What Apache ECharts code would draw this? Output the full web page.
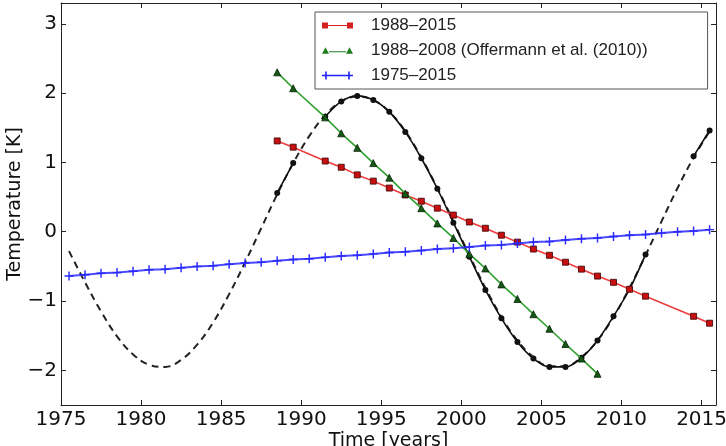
<!DOCTYPE html>
<html>
<head>
<meta charset="utf-8">
<title>Temperature fits</title>
<script src="https://cdn.jsdelivr.net/npm/echarts@6.0.0/dist/echarts.min.js"></script>
<style>
    html, body { margin: 0; padding: 0; background: #fff; }
    #main { width: 726px; height: 446px; }
</style>
</head>
<body>
<div id="main"></div>
<script type="text/javascript">
    // fitted oscillation (dashed), yearly points 1975.5 .. 2015.5
    var fitYears = [1975.5, 1976.5, 1977.5, 1978.5, 1979.5, 1980.5, 1981.5, 1982.5, 1983.5, 1984.5,
        1985.5, 1986.5, 1987.5, 1988.5, 1989.5, 1990.5, 1991.5, 1992.5, 1993.5, 1994.5,
        1995.5, 1996.5, 1997.5, 1998.5, 1999.5, 2000.5, 2001.5, 2002.5, 2003.5, 2004.5,
        2005.5, 2006.5, 2007.5, 2008.5, 2009.5, 2010.5, 2011.5, 2012.5, 2013.5, 2014.5, 2015.5];
    var fitValues = [-0.28, -0.73, -1.15, -1.51, -1.77, -1.92, -1.95, -1.85, -1.63, -1.31,
        -0.90, -0.44, 0.05, 0.54, 0.99, 1.38, 1.68, 1.88, 1.95, 1.90,
        1.73, 1.45, 1.07, 0.63, 0.15, -0.34, -0.81, -1.23, -1.57, -1.81,
        -1.94, -1.94, -1.81, -1.57, -1.23, -0.81, -0.34, 0.15, 0.63, 1.07, 1.45];

    // black markers (data years, gaps = '-')
    var dataYears = [1988.5, 1989.5, 1990.5, 1991.5, 1992.5, 1993.5, 1994.5, 1995.5, 1996.5, 1997.5,
        1998.5, 1999.5, 2000.5, 2001.5, 2002.5, 2003.5, 2004.5, 2005.5, 2006.5, 2007.5,
        2008.5, 2009.5, 2010.5, 2011.5, 2012.5, 2013.5, 2014.5, 2015.5];
    var blackValues = [0.56, 0.99, '-', 1.66, 1.88, 1.96, 1.90, 1.73, 1.44, 1.06,
        0.62, 0.13, -0.36, -0.84, -1.25, -1.59, -1.83, -1.95, -1.95, -1.82,
        -1.57, -1.22, -0.83, -0.33, '-', '-', 1.09, 1.46];

    // 1988-2015 trend
    var redValues = [1.31, 1.22, '-', 1.02, 0.93, 0.82, 0.73, 0.63, 0.53, 0.44,
        0.34, 0.24, 0.14, 0.05, -0.05, -0.15, -0.25, -0.34, -0.44, -0.54,
        -0.64, -0.73, -0.83, -0.93, '-', '-', -1.22, -1.32];

    // 1988-2008 trend (Offermann et al. 2010)
    var greenYears = [1988.5, 1989.5, 1991.5, 1992.5, 1993.5, 1994.5, 1995.5, 1996.5, 1997.5, 1998.5,
        1999.5, 2000.5, 2001.5, 2002.5, 2003.5, 2004.5, 2005.5, 2006.5, 2007.5, 2008.5];
    var greenValues = [2.30, 2.07, 1.65, 1.42, 1.21, 0.99, 0.78, 0.55, 0.34, 0.12,
        -0.09, -0.32, -0.53, -0.76, -0.97, -1.19, -1.40, -1.62, -1.83, -2.05];

    // 1975-2015 trend
    var blueValues = [-0.64, -0.62, -0.60, -0.59, -0.57, -0.55, -0.54, -0.52, -0.50, -0.49,
        -0.47, -0.45, -0.44, -0.42, -0.40, -0.39, -0.37, -0.35, -0.34, -0.32,
        -0.30, -0.29, -0.27, -0.25, -0.24, -0.22, -0.20, -0.19, -0.17, -0.15,
        -0.14, -0.12, -0.10, -0.09, -0.07, -0.05, -0.04, -0.02, 0.00, 0.01, 0.03];

    var xTicks = [1975, 1980, 1985, 1990, 1995, 2000, 2005, 2010, 2015];
    var yTicks = [-2, -1, 0, 1, 2, 3];
    var legendNames = ['1988\u20132015', '1988\u20132008 (Offermann et al. (2010))', '1975\u20132015'];

    function pairs(xs, ys) {
        var out = [];
        for (var i = 0; i < xs.length; i++) {
            out.push([xs[i], ys[i]]);
        }
        return out;
    }

    var plusPath = 'path://M4.2,0H5.8V4.2H10V5.8H5.8V10H4.2V5.8H0V4.2H4.2Z';
    var frame = '#222';

    function xAx(pos, showLabel) {
        return {
            type: 'value', position: pos, min: 1975, max: 2015.9,
            axisLine: { show: true, onZero: false, lineStyle: { color: frame, width: 1 } },
            axisTick: { show: true, inside: true, length: 5, customValues: xTicks, lineStyle: { color: frame } },
            axisLabel: {
                show: showLabel, customValues: xTicks, margin: 5,
                fontFamily: 'DejaVu Sans', fontSize: 20, color: '#111',
                formatter: function (v) { return String(v); }
            },
            splitLine: { show: false }
        };
    }
    function yAx(pos, showLabel) {
        return {
            type: 'value', position: pos, min: -2.5, max: 3.3,
            axisLine: { show: true, onZero: false, lineStyle: { color: frame, width: 1 } },
            axisTick: { show: true, inside: true, length: 5, customValues: yTicks, lineStyle: { color: frame } },
            axisLabel: {
                show: showLabel, customValues: yTicks, margin: 4,
                fontFamily: 'DejaVu Sans', fontSize: 20, color: '#111',
                formatter: function (v) { return String(v).replace('-', '\u2212'); }
            },
            splitLine: { show: false }
        };
    }

    var bottomX = xAx('bottom', true);
    bottomX.name = 'Time [years]';
    bottomX.nameLocation = 'middle';
    bottomX.nameGap = 27;
    bottomX.nameMoveOverlap = false;
    bottomX.nameTextStyle = { fontFamily: 'DejaVu Sans', fontSize: 19, color: '#111' };

    var leftY = yAx('left', true);
    leftY.name = 'Temperature [K]';
    leftY.nameLocation = 'middle';
    leftY.nameGap = 36;
    leftY.nameMoveOverlap = false;
    leftY.nameTextStyle = { fontFamily: 'DejaVu Sans', fontSize: 19, color: '#111' };

    var myChart = echarts.init(document.getElementById('main'), null, { renderer: 'canvas' });
    var option = {
        animation: false,
        backgroundColor: '#fff',
        grid: { left: 61, right: 10, top: 3, bottom: 41, containLabel: false, outerBoundsMode: 'none' },
        xAxis: [bottomX, xAx('top', false)],
        yAxis: [leftY, yAx('right', false)],
        legend: {
            left: 315, top: 12,
            orient: 'vertical',
            padding: [5, 60, 5, 7],
            itemGap: 8,
            itemWidth: 31, itemHeight: 8,
            borderColor: '#555', borderWidth: 1,
            backgroundColor: '#fff',
            textStyle: { fontFamily: 'Liberation Sans', fontSize: 17, color: '#222', padding: [0, 0, 0, 13] },
            data: [
                {
                    name: legendNames[0],
                    icon: 'path://M0,1H6V7H0Z M25,1H31V7H25Z M6,3.4H25V4.6H6Z',
                    itemStyle: { color: '#d42020', borderWidth: 0 }
                },
                {
                    name: legendNames[1],
                    icon: 'path://M0,7.5L3.5,1L7,7.5Z M24,7.5L27.5,1L31,7.5Z M7,4.9H24V6.1H7Z',
                    itemStyle: { color: '#1d7d1d', borderWidth: 0 }
                },
                {
                    name: legendNames[2],
                    icon: 'path://M3.2,0H4.8V3.2H8V4.8H4.8V8H3.2V4.8H0V3.2H3.2Z M26.2,0H27.8V3.2H31V4.8H27.8V8H26.2V4.8H23V3.2H26.2Z M8,3.3H23V4.7H8Z',
                    itemStyle: { color: '#2020ff', borderWidth: 0 }
                }
            ]
        },
        series: [
            {
                name: 'fit',
                type: 'line',
                data: pairs(fitYears, fitValues),
                smooth: 0.4,
                showSymbol: false,
                lineStyle: { color: '#222', width: 2, type: [7, 5] },
                z: 1
            },
            {
                name: 'data',
                type: 'line',
                data: pairs(dataYears, blackValues),
                connectNulls: false,
                smooth: 0.3,
                symbol: 'circle', symbolSize: 6,
                itemStyle: { color: '#111' },
                lineStyle: { color: '#111', width: 1.6 },
                z: 2
            },
            {
                name: legendNames[0],
                type: 'line',
                data: pairs(dataYears, redValues),
                connectNulls: true,
                symbol: 'rect', symbolSize: 6,
                itemStyle: { color: '#c81010', borderColor: '#3a0000', borderWidth: 0.8 },
                lineStyle: { color: '#f03c3c', width: 1.6 },
                z: 3
            },
            {
                name: legendNames[1],
                type: 'line',
                data: pairs(greenYears, greenValues),
                symbol: 'triangle', symbolSize: 7,
                itemStyle: { color: '#145a14', borderColor: '#0a200a', borderWidth: 0.8 },
                lineStyle: { color: '#2ea02e', width: 1.6 },
                z: 4
            },
            {
                name: legendNames[2],
                type: 'line',
                data: pairs(fitYears, blueValues),
                symbol: plusPath, symbolSize: 9,
                itemStyle: { color: '#2a2aff' },
                lineStyle: { color: '#2a2aff', width: 2, opacity: 0.85 },
                z: 5
            }
        ]
    };
    myChart.setOption(option);
</script>
</body>
</html>
